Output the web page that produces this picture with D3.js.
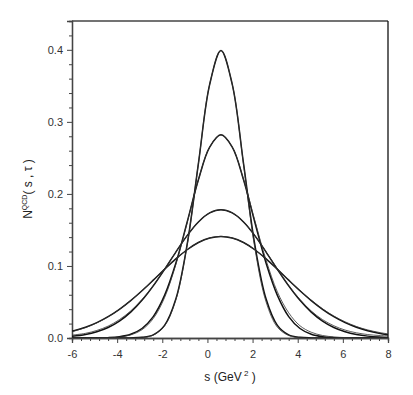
<!DOCTYPE html>
<html>
<head>
<meta charset="utf-8">
<script src="https://cdn.jsdelivr.net/npm/d3@7"></script>
<style>
    body { margin: 0; background: #fff; }
    text { font-family: Arial, "Liberation Sans", sans-serif; }
</style>
</head>
<body>
<div id="plot"></div>
<script>
// s grid (GeV^2) the curves were read at
let sValues = [-6, -5.4, -4.9, -4.4, -3.9, -3.4, -2.9, -2.4, -1.9, -1.4, -0.9, -0.4, 0.1, 0.6,
    1.1, 1.6, 2.1, 2.6, 3.1, 3.6, 4.1, 4.6, 5.1, 5.6, 6.1, 6.6, 7.1, 7.6, 8];

// thick curves
let curve1 = [0, 0, 0, 0, 0, 0.0001, 0.0009, 0.0044, 0.0175, 0.054, 0.1295, 0.242, 0.352, 0.399,
    0.352, 0.242, 0.1295, 0.054, 0.0175, 0.0044, 0.0009, 0.0001, 0, 0, 0, 0, 0, 0, 0];
let curve2 = [0, 0, 0.0001, 0.0005, 0.0018, 0.0052, 0.0132, 0.0297, 0.0591, 0.1037, 0.1607, 0.2196, 0.265, 0.282,
    0.265, 0.2196, 0.1607, 0.1037, 0.0591, 0.0297, 0.0132, 0.0052, 0.0018, 0.0005, 0.0001, 0, 0, 0, 0];
let curve3 = [0.0023, 0.0049, 0.0087, 0.0146, 0.0235, 0.0359, 0.0523, 0.0724, 0.0953, 0.1193, 0.1421, 0.1611, 0.1736, 0.178,
    0.1736, 0.1611, 0.1421, 0.1193, 0.0953, 0.0724, 0.0523, 0.0359, 0.0235, 0.0146, 0.0087, 0.0049, 0.0026, 0.0013, 0.0007];
let curve4 = [0.0093, 0.0149, 0.0213, 0.0296, 0.0398, 0.0519, 0.0656, 0.0803, 0.0954, 0.1098, 0.1225, 0.1325, 0.1388, 0.141,
    0.1388, 0.1325, 0.1225, 0.1098, 0.0954, 0.0803, 0.0656, 0.0519, 0.0398, 0.0296, 0.0213, 0.0149, 0.0101, 0.0066, 0.0046];

// thin curves (the second set drawn on top)
let thin1 = [0, 0, 0, 0, 0, 0.0001, 0.0008, 0.004, 0.0168, 0.053, 0.129, 0.242, 0.352, 0.399,
    0.352, 0.241, 0.125, 0.05, 0.015, 0.0035, 0.0006, 0, 0, 0, 0, 0, 0, 0, 0];
let thin2 = [0, 0, 0, 0.0003, 0.0012, 0.0043, 0.0115, 0.027, 0.056, 0.102, 0.160, 0.2196, 0.265, 0.282,
    0.265, 0.220, 0.163, 0.108, 0.064, 0.035, 0.017, 0.008, 0.0035, 0.0015, 0.0006, 0.0002, 0, 0, 0];
let thin3 = [0.004, 0.0065, 0.0105, 0.0165, 0.0255, 0.0375, 0.0535, 0.073, 0.0955, 0.1193, 0.1421, 0.1611, 0.1736, 0.178,
    0.1736, 0.1611, 0.1421, 0.1195, 0.0958, 0.0732, 0.0535, 0.0375, 0.0255, 0.017, 0.011, 0.0072, 0.0048, 0.0035, 0.003];
let thin4 = [0.0088, 0.0145, 0.021, 0.0294, 0.0397, 0.0519, 0.0656, 0.0803, 0.0954, 0.1098, 0.1225, 0.1325, 0.1388, 0.141,
    0.1388, 0.1325, 0.1225, 0.1098, 0.0955, 0.0805, 0.066, 0.0525, 0.0405, 0.0305, 0.0225, 0.016, 0.0112, 0.0078, 0.0056];

let xMajor = [-6, -4, -2, 0, 2, 4, 6, 8];
let yMajor = [0, 0.1, 0.2, 0.3, 0.4];

let svgWidth = 413;
let svgHeight = 395;

let margin = {
    top: 21,
    right: 25,
    bottom: 57,
    left: 72
};

let chartWidth = svgWidth - margin.left - margin.right;
let chartHeight = svgHeight - margin.top - margin.bottom;

let $svg = d3.select('#plot')
    .append('svg')
    .attr('width', svgWidth)
    .attr('height', svgHeight);

let $chartGroup = $svg.append('g')
    .attr('transform', `translate(${margin.left}, ${margin.top})`);

let xLinearScale = d3.scaleLinear()
    .domain([-6, 8])
    .range([0, chartWidth]);

let yLinearScale = d3.scaleLinear()
    .domain([0, 0.44])
    .range([chartHeight, 0]);

// minor ticks
let xMinor = d3.range(-6, 8.001, 0.4).map(v => +v.toFixed(1)).filter(v => xMajor.indexOf(v) < 0);
let yMinor = d3.range(0, 0.441, 0.02).map(v => +v.toFixed(2)).filter(v => yMajor.indexOf(v) < 0);

let axisColor = '#444';

// plain hyphen for negative labels, like the original
let bottomAxis = d3.axisBottom(xLinearScale).tickValues(xMajor).tickSize(5).tickPadding(7).tickFormat(d => String(d));
let bottomMinor = d3.axisBottom(xLinearScale).tickValues(xMinor).tickSize(3).tickFormat('');
let leftAxis = d3.axisLeft(yLinearScale).tickValues(yMajor).tickSize(5).tickPadding(4).tickFormat(d => d.toFixed(1));
let leftMinor = d3.axisLeft(yLinearScale).tickValues(yMinor).tickSize(3).tickFormat('');

function styleAxis($g) {
    $g.select('.domain').attr('stroke', axisColor).attr('stroke-width', 1.3);
    $g.selectAll('.tick line').attr('stroke', axisColor).attr('stroke-width', 1);
    $g.selectAll('.tick text')
        .attr('fill', '#333')
        .style('font-size', '11px');
}

$chartGroup.append('g')
    .attr('transform', `translate(0, ${chartHeight})`)
    .call(bottomMinor)
    .call(styleAxis);

$chartGroup.append('g')
    .attr('transform', `translate(0, ${chartHeight})`)
    .attr('id', 'x-axis')
    .call(bottomAxis)
    .call(styleAxis);

$chartGroup.append('g')
    .call(leftMinor)
    .call(styleAxis);

$chartGroup.append('g')
    .attr('id', 'y-axis')
    .call(leftAxis)
    .call(styleAxis);

// top and right frame
$chartGroup.append('line')
    .attr('x1', 0).attr('x2', chartWidth)
    .attr('y1', 0).attr('y2', 0)
    .attr('stroke', axisColor).attr('stroke-width', 1.3);
$chartGroup.append('line')
    .attr('x1', chartWidth).attr('x2', chartWidth)
    .attr('y1', 0).attr('y2', chartHeight)
    .attr('stroke', '#111').attr('stroke-width', 1.3);

// curves
$chartGroup.append('clipPath')
    .attr('id', 'clip')
    .append('rect')
    .attr('width', chartWidth)
    .attr('height', chartHeight);

let lineGen = d3.line()
    .x((d, i) => xLinearScale(sValues[i]))
    .y(d => yLinearScale(Math.max(d, 0)))
    .curve(d3.curveCatmullRom.alpha(0.5));

let $curves = $chartGroup.append('g').attr('clip-path', 'url(#clip)');

[curve1, curve2, curve3, curve4].forEach(series => {
    $curves.append('path')
        .attr('d', lineGen(series))
        .attr('fill', 'none')
        .attr('stroke', '#111')
        .attr('stroke-width', 1.5);
});

[thin1, thin2, thin3, thin4].forEach(series => {
    $curves.append('path')
        .attr('d', lineGen(series))
        .attr('fill', 'none')
        .attr('stroke', '#333')
        .attr('stroke-width', 0.8);
});

// axis titles
let $xTitle = $svg.append('text')
    .attr('x', margin.left + chartWidth / 2)
    .attr('y', 381)
    .attr('text-anchor', 'middle')
    .attr('fill', '#222')
    .style('font-size', '12px');
$xTitle.append('tspan').text('s  (GeV');
$xTitle.append('tspan').attr('dy', -5).style('font-size', '8px').text(' 2');
$xTitle.append('tspan').attr('dy', 5).text(' )');

let $yTitle = $svg.append('text')
    .attr('transform', 'translate(32, 189) rotate(-90)')
    .attr('text-anchor', 'middle')
    .attr('fill', '#222')
    .style('font-size', '12px');
$yTitle.append('tspan').text('N');
$yTitle.append('tspan').attr('dy', -5).style('font-size', '7px').text('QCD');
$yTitle.append('tspan').attr('dy', 5).text('( s , τ )');
</script>
</body>
</html>
